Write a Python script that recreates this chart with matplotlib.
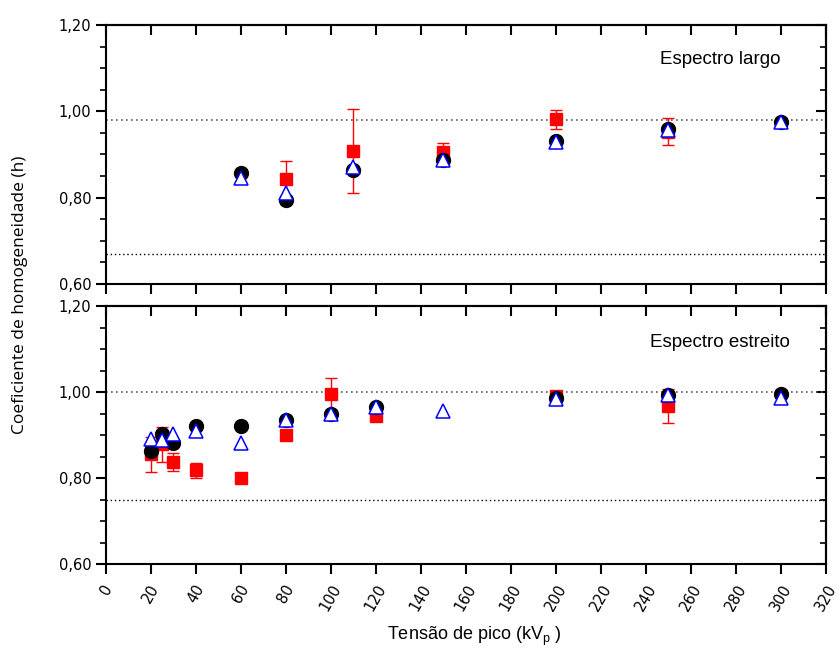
import matplotlib
matplotlib.use("Agg")
import matplotlib.pyplot as plt
from matplotlib.ticker import MultipleLocator, FuncFormatter

# Espectro largo (top panel)
kv_circ_largo = [60, 80, 110, 150, 200, 250, 300]
h_circ_largo = [0.857, 0.795, 0.865, 0.887, 0.932, 0.960, 0.976]
kv_tri_largo = [60, 80, 110, 150, 200, 250, 300]
h_tri_largo = [0.846, 0.810, 0.872, 0.887, 0.930, 0.957, 0.975]
kv_sq_largo = [80, 110, 150, 200, 250]
h_sq_largo = [0.843, 0.908, 0.906, 0.982, 0.953]
err_sq_largo = [0.042, 0.098, 0.021, 0.022, 0.032]
ref_largo = [0.98, 0.67]

# Espectro estreito (bottom panel)
kv_circ_estr = [20, 25, 30, 40, 60, 80, 100, 120, 200, 250, 300]
h_circ_estr = [0.864, 0.903, 0.882, 0.922, 0.922, 0.934, 0.948, 0.966, 0.986, 0.992, 0.996]
kv_tri_estr = [20, 25, 30, 40, 60, 80, 100, 120, 150, 200, 250, 300]
h_tri_estr = [0.891, 0.889, 0.903, 0.910, 0.882, 0.934, 0.948, 0.966, 0.955, 0.984, 0.993, 0.986]
kv_sq_estr = [20, 25, 30, 40, 60, 80, 100, 120, 200, 250]
h_sq_estr = [0.855, 0.878, 0.837, 0.818, 0.799, 0.901, 0.996, 0.945, 0.990, 0.968]
err_sq_estr = [0.040, 0.040, 0.021, 0.017, 0.008, 0.006, 0.037, 0.006, 0.006, 0.040]
ref_estr = [1.00, 0.75]

xticks = list(range(0, 321, 20))

narrow = ["Liberation Sans Narrow", "Liberation Sans", "DejaVu Sans"]

fig = plt.figure(figsize=(8.39, 6.56), dpi=100)
ax1 = fig.add_axes([0.1263, 0.5671, 0.8582, 0.3948])
ax2 = fig.add_axes([0.1263, 0.1402, 0.8582, 0.3933])


def draw(ax, kc, hc, kt, ht, ks, hs, es, refs, label, ly):
    ax.axhline(refs[0], color="0.35", ls=(0, (1, 2)), lw=1.2, zorder=1)
    ax.axhline(refs[1], color="k", ls=(0, (1, 2)), lw=1.0, zorder=1)
    ax.errorbar(ks, hs, yerr=es, fmt="s", color="red", ms=8.5, ecolor="red",
                elinewidth=1, capsize=4, capthick=1, zorder=2)
    ax.plot(kc, hc, "o", color="black", ms=10, zorder=3)
    ax.plot(kt, ht, "^", mfc="white", mec="blue", mew=1.1, ms=10, zorder=4,
            ls="none")
    ax.text(0.853, ly, label, transform=ax.transAxes, ha="center", va="center",
            fontsize=13.5, family=narrow)
    ax.set_xlim(0, 320)
    ax.set_ylim(0.60, 1.20)
    ax.set_xticks(xticks)
    ax.yaxis.set_major_locator(MultipleLocator(0.2))
    ax.yaxis.set_minor_locator(MultipleLocator(0.05))
    ax.yaxis.set_major_formatter(FuncFormatter(lambda v, p: f"{v:.2f}".replace(".", ",")))
    for s in ax.spines.values():
        s.set_linewidth(1.5)
    ax.tick_params(axis="y", which="major", direction="out", length=7, width=1.5,
                   labelsize=10.5, right=False)
    ax.tick_params(axis="y", which="minor", direction="out", length=4, width=1.2,
                   right=False)
    ax.tick_params(axis="x", which="major", direction="out", length=7, width=1.5,
                   labelsize=10.5, pad=6)
    # inward ticks on top and right edges
    sec = ax.secondary_yaxis("right")
    sec.yaxis.set_major_locator(MultipleLocator(0.2))
    sec.yaxis.set_minor_locator(MultipleLocator(0.05))
    sec.tick_params(which="major", direction="in", length=7, width=1.5, labelright=False)
    sec.tick_params(which="minor", direction="in", length=4, width=1.2)
    sec.spines["right"].set_linewidth(1.5)
    top = ax.secondary_xaxis("top")
    top.set_xticks(xticks)
    top.tick_params(direction="in", length=7, width=1.5, labeltop=False)
    top.spines["top"].set_linewidth(1.5)


draw(ax1, kv_circ_largo, h_circ_largo, kv_tri_largo, h_tri_largo,
     kv_sq_largo, h_sq_largo, err_sq_largo, ref_largo, "Espectro largo", 0.865)
draw(ax2, kv_circ_estr, h_circ_estr, kv_tri_estr, h_tri_estr,
     kv_sq_estr, h_sq_estr, err_sq_estr, ref_estr, "Espectro estreito", 0.857)

ax1.tick_params(axis="x", labelbottom=False)
plt.setp(ax2.get_xticklabels(), rotation=60)

fig.text(0.024, 0.55, "Coeficiente de homogeneidade (h)", rotation=90,
         ha="center", va="center", fontsize=12.5, family="Open Sans")
fig.text(0.565, 0.03, r"Tensão de pico (kV$_\mathregular{p}$ )", ha="center",
         va="center", fontsize=13, family="Liberation Sans")

fig.savefig("out.png", dpi=100)
